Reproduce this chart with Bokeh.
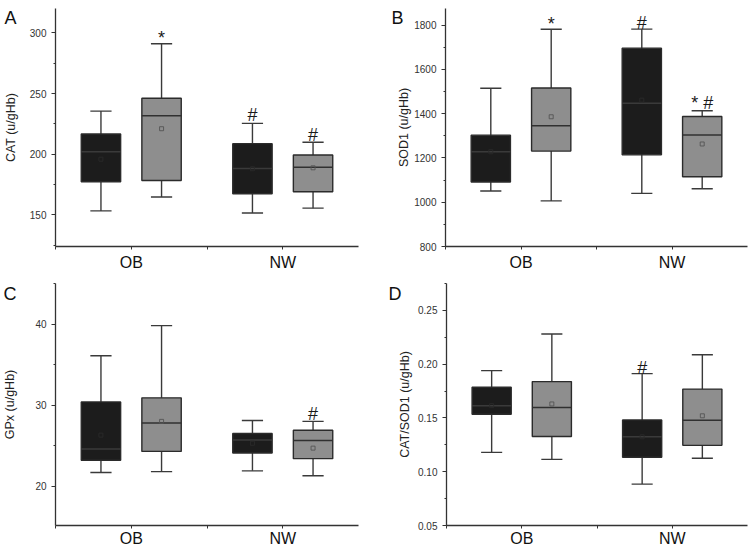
from bokeh.plotting import figure
from bokeh.layouts import row, column
from bokeh.models import (Range1d, FixedTicker, SingleIntervalTicker, Title,
                          NumeralTickFormatter, ColumnDataSource)
from bokeh.core.properties import value
from bokeh.embed import file_html
from bokeh.resources import INLINE

# ---------------- data ----------------
group_labels = ["OB", "NW"]
group_pos = [1, 2]
# boxes, in order: OB dark, OB grey, NW dark, NW grey
box_group = [0, 0, 1, 1]
box_side = [-1, 1, -1, 1]
box_kind = ["dark", "grey", "dark", "grey"]

cat_low = [153.3, 164.8, 151.6, 155.6]
cat_q1 = [177.3, 178.4, 167.5, 169.1]
cat_med = [202.1, 231.6, 188.2, 189.3]
cat_q3 = [216.6, 246.1, 208.7, 199.4]
cat_high = [235.5, 291.0, 225.4, 209.8]
cat_mean = [195.9, 221.0, 188.0, 188.8]
cat_sig_text = ["*", "#", "#"]
cat_sig_box = [1, 2, 3]
cat_sig_y = [295.5, 232.0, 216.0]

sod_low = [1051, 1006, 1040, 1061]
sod_q1 = [1091, 1231, 1214, 1115]
sod_med = [1228, 1345, 1447, 1304]
sod_q3 = [1303, 1516, 1696, 1387]
sod_high = [1515, 1781, 1782, 1413]
sod_mean = [1228, 1386, 1461, 1263]
sod_sig_text = ["*", "#", "* #"]
sod_sig_box = [1, 2, 3]
sod_sig_y = [1804, 1809, 1446]

gpx_low = [21.7, 21.8, 21.9, 21.3]
gpx_q1 = [23.2, 24.3, 24.1, 23.4]
gpx_med = [24.6, 27.8, 25.7, 25.65]
gpx_q3 = [30.4, 30.9, 26.5, 26.9]
gpx_high = [36.1, 39.8, 28.1, 28.0]
gpx_mean = [26.3, 28.0, 25.3, 24.7]
gpx_sig_text = ["#"]
gpx_sig_box = [3]
gpx_sig_y = [28.9]

ratio_low = [0.118, 0.1115, 0.0885, 0.1125]
ratio_q1 = [0.1534, 0.1328, 0.1134, 0.1245]
ratio_med = [0.1614, 0.1598, 0.1325, 0.1478]
ratio_q3 = [0.1786, 0.1838, 0.1482, 0.1768]
ratio_high = [0.194, 0.228, 0.1912, 0.2088]
ratio_mean = [0.1614, 0.163, 0.1325, 0.152]
ratio_sig_text = ["#"]
ratio_sig_box = [2]
ratio_sig_y = [0.196]

# ---------------- style ----------------
FONT = "Liberation Sans"
AXIS_COL = "#333333"
FILL = {"dark": "#1c1c1c", "grey": "#8e8e8e"}
MED_COL = {"dark": "#3a3a3a", "grey": "#303030"}
MEAN_COL = {"dark": "#2a2a2a", "grey": "#555555"}
OFFSET = 0.2
BOX_W = 0.26
CAP_W = 0.14


def make_panel(letter, letter_dx, letter_standoff, ylabel, low, q1, med, q3, high, mean,
               sig_text, sig_box, sig_y, y0, y1, interval, fmt,
               w, h, bl, br, bt, bb, label_standoff, x_standoff):
    p = figure(width=w, height=h, min_border_left=bl,
               min_border_right=br, min_border_top=bt, min_border_bottom=bb,
               x_range=Range1d(0.5, 2.5), y_range=Range1d(y0, y1),
               output_backend="svg", toolbar_location=None)
    p.outline_line_color = None
    p.background_fill_color = "white"
    p.border_fill_color = "white"
    p.xgrid.visible = False
    p.ygrid.visible = False

    xs = [group_pos[g] + s * OFFSET for g, s in zip(box_group, box_side)]
    fills = [FILL[k] for k in box_kind]
    meds = [MED_COL[k] for k in box_kind]
    means = [MEAN_COL[k] for k in box_kind]
    src = ColumnDataSource(dict(
        x=xs, low=low, q1=q1, med=med, q3=q3, high=high, mean=mean,
        x0=[x - BOX_W / 2 for x in xs], x1=[x + BOX_W / 2 for x in xs],
        c0=[x - CAP_W / 2 for x in xs], c1=[x + CAP_W / 2 for x in xs],
        fill=fills, medc=meds, meanc=means))

    p.segment(x0="x", y0="low", x1="x", y1="high", source=src,
              line_color="#3a3a3a", line_width=1.4)
    p.segment(x0="c0", y0="low", x1="c1", y1="low", source=src,
              line_color="#3a3a3a", line_width=1.4)
    p.segment(x0="c0", y0="high", x1="c1", y1="high", source=src,
              line_color="#3a3a3a", line_width=1.4)
    p.vbar(x="x", width=BOX_W, bottom="q1", top="q3", source=src,
           fill_color="fill", line_color="#2b2b2b", line_width=1.4)
    p.segment(x0="x0", y0="med", x1="x1", y1="med", source=src,
              line_color="medc", line_width=1.5)
    p.scatter(x="x", y="mean", source=src, marker="square", size=4,
              fill_color=None, line_color="meanc", line_width=0.9)

    sx = [xs[i] for i in sig_box]
    p.text(x=sx, y=sig_y, text=sig_text, text_font=value(FONT),
           text_font_size="18px", text_align="center",
           text_baseline="alphabetic", text_color="#1a1a1a")

    xa = p.xaxis[0]
    xa.ticker = FixedTicker(ticks=[0.5, 1, 1.5, 2], minor_ticks=[])
    xa.major_label_overrides = {0.5: "", 1: group_labels[0], 1.5: "", 2: group_labels[1]}
    xa.major_tick_out = 3
    xa.major_tick_in = 0
    xa.major_label_standoff = x_standoff
    xa.major_label_text_font = FONT
    xa.major_label_text_font_size = "16px"
    xa.major_label_text_color = "#111111"
    xa.axis_line_color = AXIS_COL
    xa.axis_line_width = 1.3
    xa.major_tick_line_color = AXIS_COL

    ya = p.yaxis[0]
    ya.ticker = SingleIntervalTicker(interval=interval, num_minor_ticks=2)
    ya.formatter = NumeralTickFormatter(format=fmt)
    ya.major_tick_out = 4
    ya.major_tick_in = 0
    ya.minor_tick_out = 2
    ya.minor_tick_in = 0
    ya.major_label_standoff = 5
    ya.major_label_text_font = FONT
    ya.major_label_text_font_size = "10px"
    ya.major_label_text_color = "#333333"
    ya.axis_line_color = AXIS_COL
    ya.axis_line_width = 1.3
    ya.major_tick_line_color = AXIS_COL
    ya.minor_tick_line_color = AXIS_COL
    ya.axis_label = ylabel
    ya.axis_label_text_font = FONT
    ya.axis_label_text_font_size = "12.5px"
    ya.axis_label_text_font_style = "normal"
    ya.axis_label_text_color = "#222222"
    ya.axis_label_standoff = label_standoff

    # panel letter as a title that hangs down beside the y axis
    t = Title(text="\n" + letter, align="left", offset=letter_dx,
              standoff=letter_standoff, vertical_align="bottom",
              text_font=FONT, text_font_size="18px", text_font_style="normal",
              text_color="#111111")
    p.add_layout(t, "above")
    return p


H1, H2 = 273, 276
WL, WR = 374, 375

pA = make_panel("A", -51, -38, "CAT (u/gHb)", cat_low, cat_q1, cat_med, cat_q3, cat_high,
                cat_mean, cat_sig_text, cat_sig_box, cat_sig_y, 124, 320, 50, "0",
                WL, H1, 54, 16, 8, 26, 9, 4)
pB = make_panel("B", -54, -38, "SOD1 (u/gHb)", sod_low, sod_q1, sod_med, sod_q3, sod_high,
                sod_mean, sod_sig_text, sod_sig_box, sod_sig_y, 800, 1875, 200, "0",
                WR, H1, 71, 2, 8, 26, 0, 4)
pC = make_panel("C", -52, -40, "GPx (u/gHb)", gpx_low, gpx_q1, gpx_med, gpx_q3, gpx_high,
                gpx_mean, gpx_sig_text, gpx_sig_box, gpx_sig_y, 15.16, 45, 10, "0",
                WL, H2, 54, 16, 10, 22, 15, 1)
pD = make_panel("D", -58, -40, "CAT/SOD1 (u/gHb)", ratio_low, ratio_q1, ratio_med, ratio_q3,
                ratio_high, ratio_mean, ratio_sig_text, ratio_sig_box, ratio_sig_y,
                0.05, 0.275, 0.05, "0.00", WR, H2, 72, 2, 10, 22, 3, 1)

layout = column(row(pA, pB), row(pC, pD))

with open("out.html", "w") as f:
    f.write(file_html(layout, INLINE))
